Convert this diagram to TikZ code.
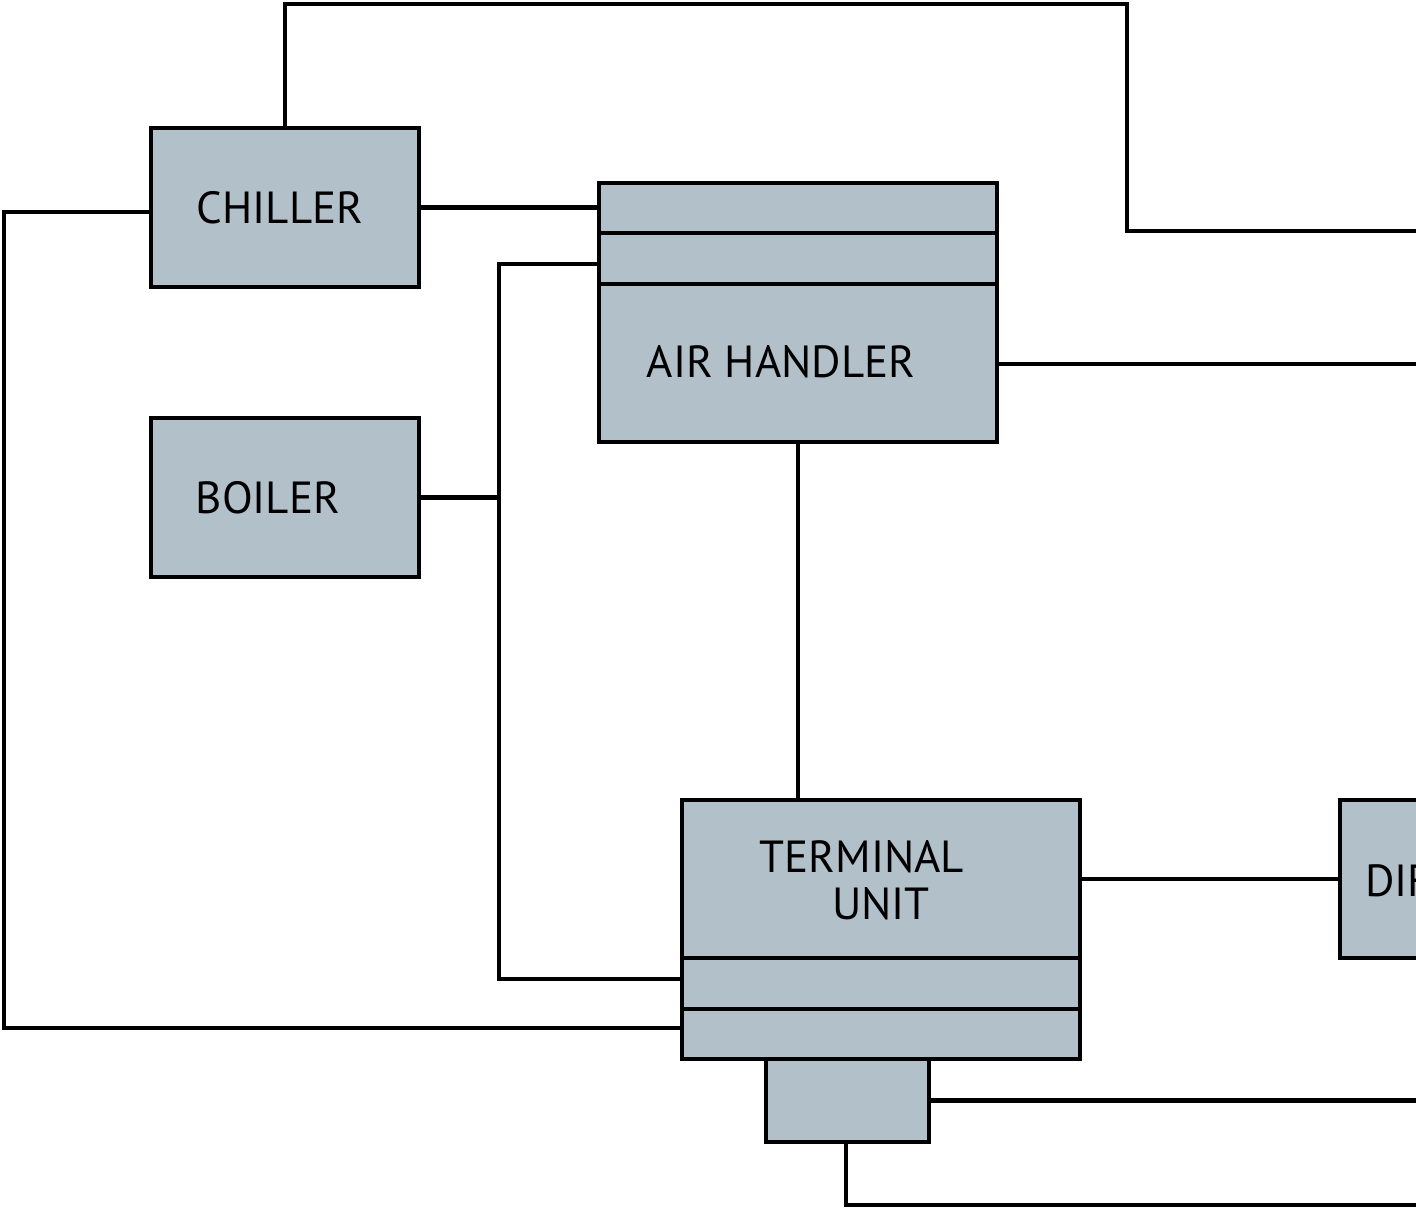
\documentclass[tikz,border=0pt]{standalone}
\usepackage{fontspec}
\setmainfont{PT Sans}
\usepackage{xcolor}
\usetikzlibrary{positioning}

\definecolor{unitgray}{RGB}{178,192,201}

\begin{document}
\begin{tikzpicture}[
    x=0.025cm, y=-0.025cm,
    unit/.style={rectangle, draw, fill=unitgray, line width=3.2pt, inner sep=0pt},
    tag/.style={font=\fontsize{32}{33}\selectfont, inner sep=0pt, text depth=0pt, align=center},
    pipe/.style={line width=3.2pt}
]
    \useasboundingbox (0,0) rectangle (1416,1210);
    \clip (0,0) rectangle (1416,1210);

    % equipment boxes
    \node[unit, minimum width=6.7cm, minimum height=3.975cm] (chiller) at (285,207.5) {};
    \node[unit, minimum width=6.7cm, minimum height=3.975cm] (boiler) at (285,497.5) {};
    \node[unit, minimum width=9.95cm, minimum height=6.475cm] (ahandler) at (798,312.5) {};
    \node[unit, minimum width=9.95cm, minimum height=6.475cm] (terminal) at (881,929.5) {};
    \node[unit, minimum width=4.075cm, minimum height=2.075cm] (control) at (847.5,1100.5) {};
    \node[unit, minimum width=7.5cm, minimum height=3.95cm] (diffuser) at (1490,879) {};

    % bands
    \draw[pipe] (ahandler.west |- 0,233) -- (ahandler.east |- 0,233);
    \draw[pipe] (ahandler.west |- 0,284) -- (ahandler.east |- 0,284);
    \draw[pipe] (terminal.west |- 0,958) -- (terminal.east |- 0,958);
    \draw[pipe] (terminal.west |- 0,1009) -- (terminal.east |- 0,1009);

    % labels
    \node[tag] (chillerText) at (280,207) {CHILLER};
    \node[tag] (boilerText) at (268,497) {BOILER};
    \node[tag] (ahandlerText) at (781,362) {AIR HANDLER};
    \node[tag] (terminalText) at (862,880) {TERMINAL\\\hspace*{0.95cm}UNIT};
    \node[tag, anchor=west] (diffuserText) at (1365,880) {DIFFUSER};

    % piping and ducts
    \draw[pipe] (chiller.east) -- (ahandler.west |- chiller.east);
    \draw[pipe] (chiller.west |- 0,212) -| (4,1028) -- (terminal.west |- 0,1028);
    \draw[pipe] (chiller.north) |- (1127,4) |- (1430,231);
    \draw[pipe] (ahandler.west |- 0,264) -| (499,979) -- (terminal.west |- 0,979);
    \draw[pipe] (boiler.east) -- (499,497.5);
    \draw[pipe] (ahandler.east |- 0,364) -- (1430,364);
    \draw[pipe] (ahandler.south) -- (terminal.north -| ahandler.south);
    \draw[pipe] (terminal.east |- diffuser.west) -- (diffuser.west);
    \draw[pipe] (control.east) -- (1430,1100.5);
    \draw[pipe] (control.south -| 846,0) |- (1430,1205);
\end{tikzpicture}
\end{document}
